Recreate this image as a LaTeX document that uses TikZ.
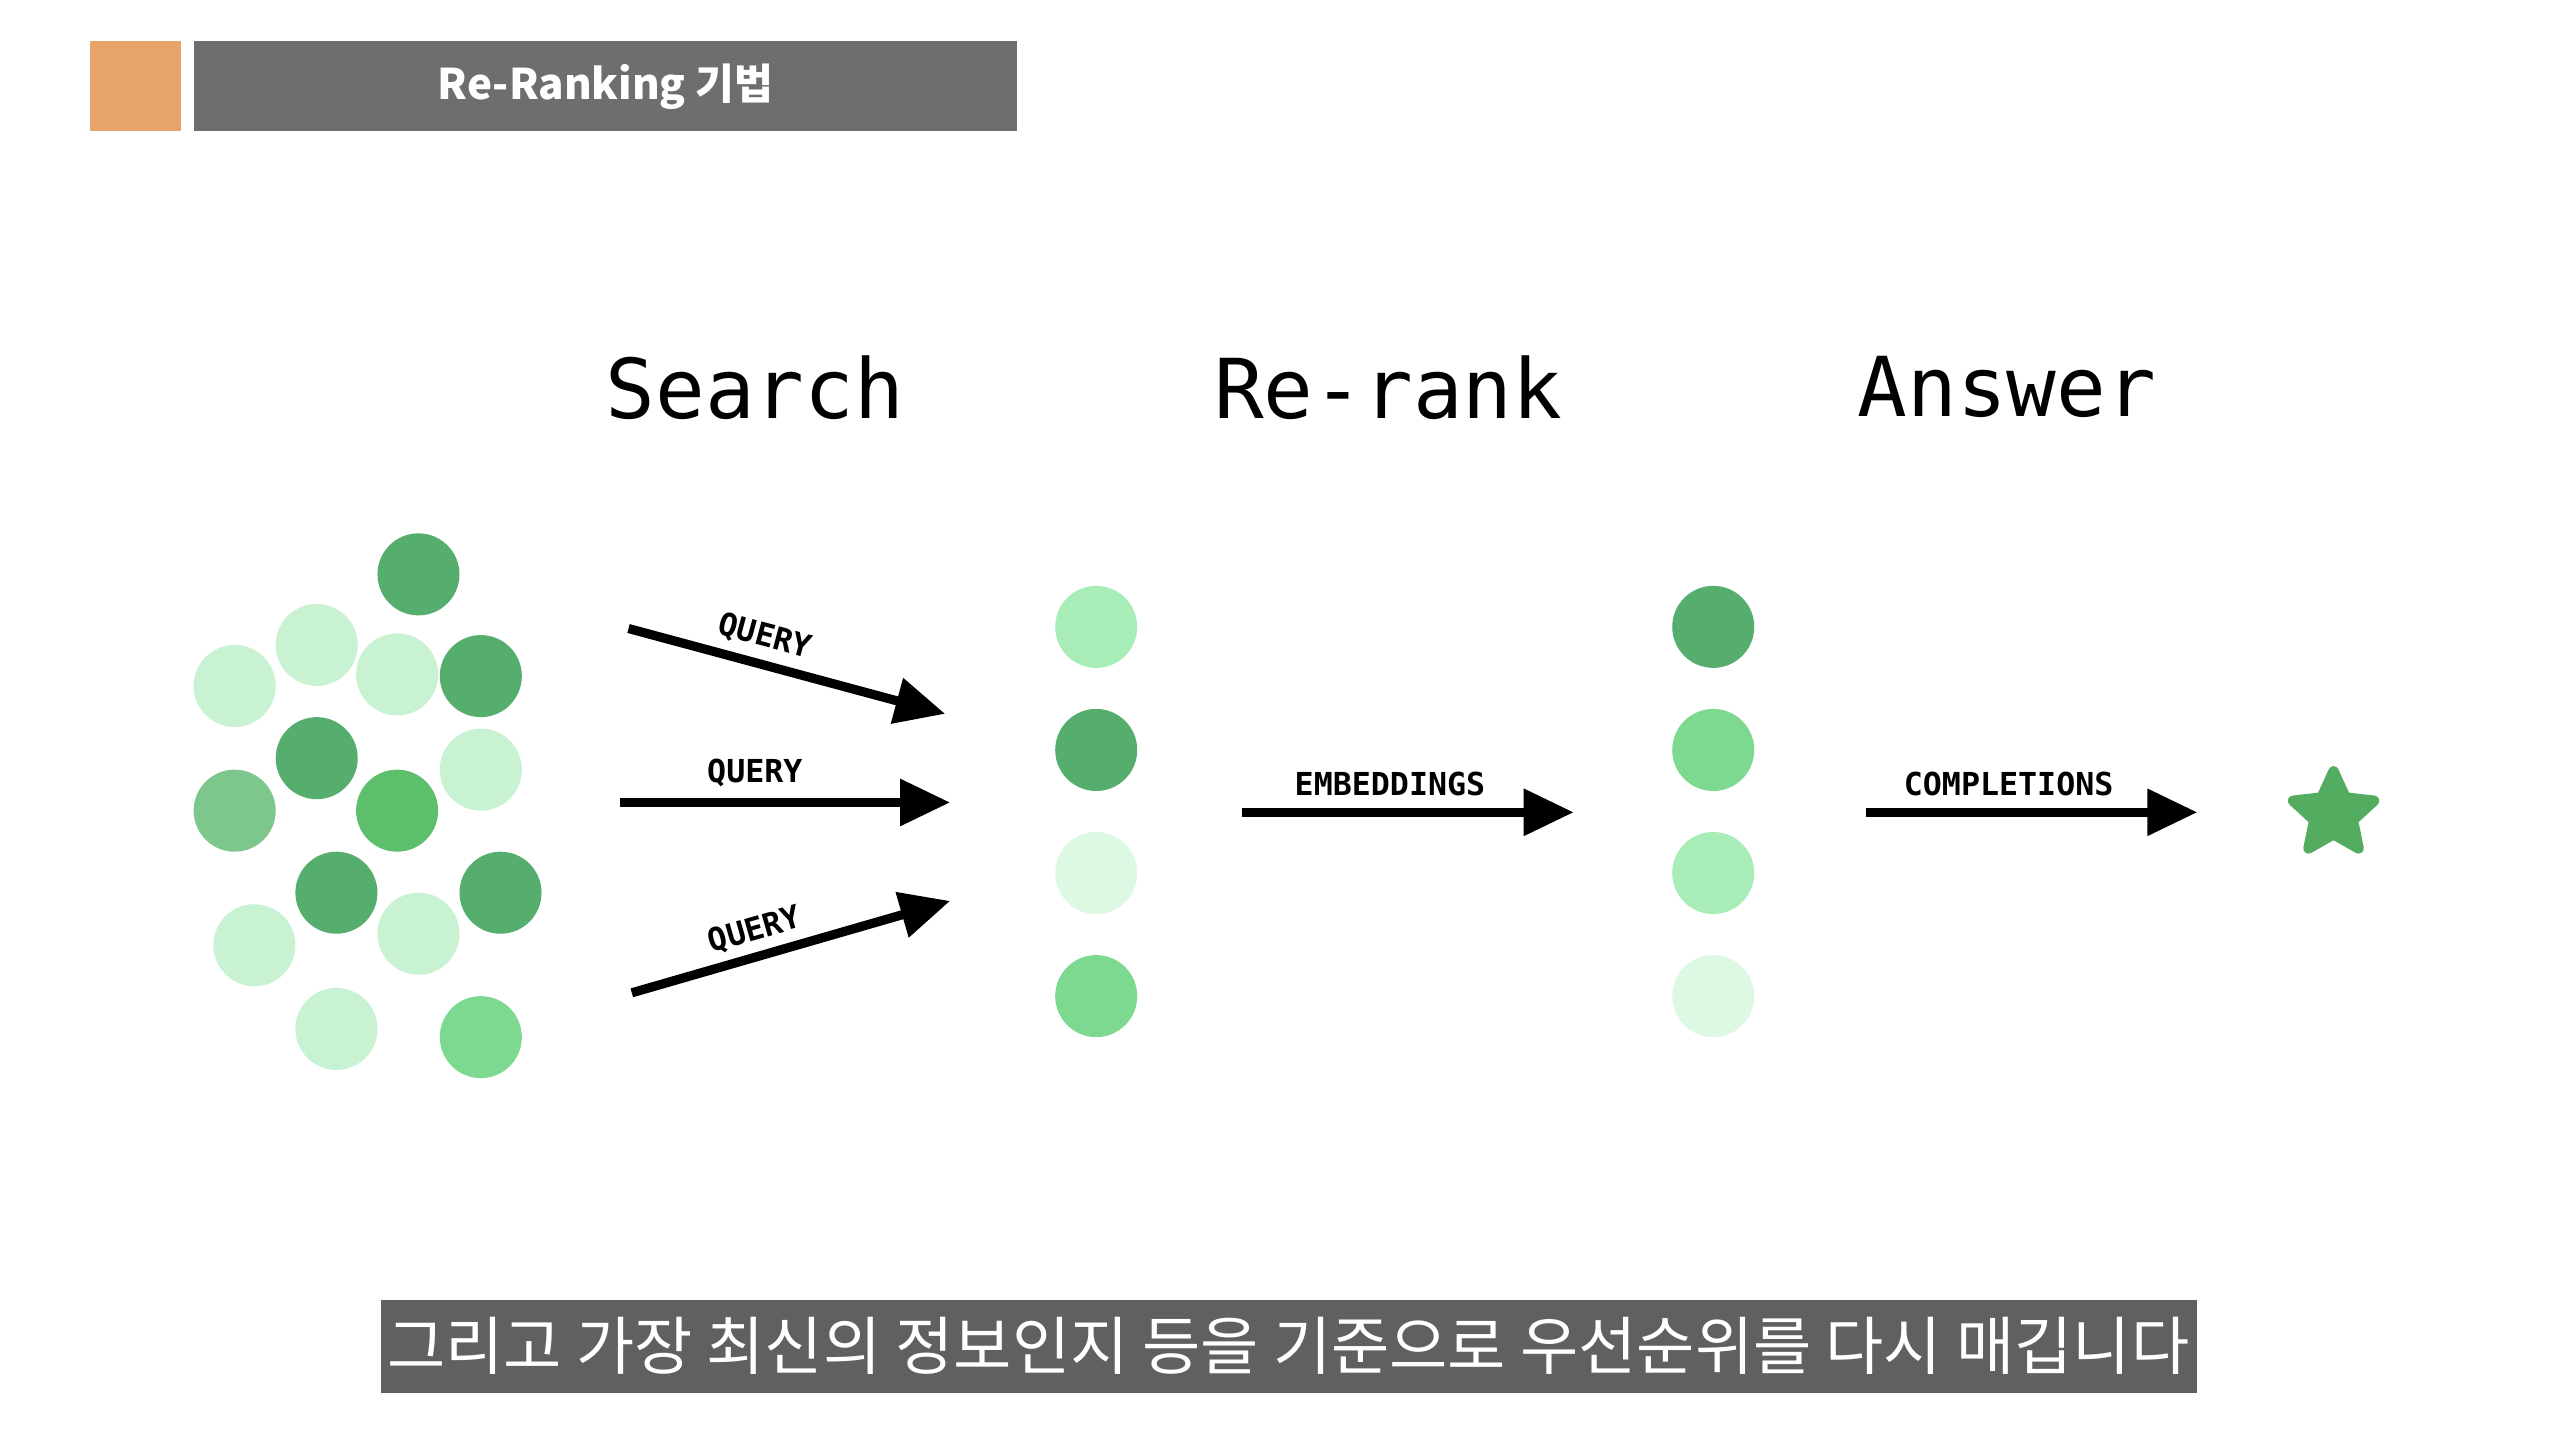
\documentclass[tikz,border=0pt]{standalone}
\usepackage{fontspec}
\setmonofont{DejaVu Sans Mono}
\newfontfamily\krfont{Noto Sans CJK KR}
\usetikzlibrary{arrows.meta,shapes.geometric}

\definecolor{gdark}{HTML}{55AE6E}
\definecolor{gbright}{HTML}{5DBF6C}
\definecolor{gmid}{HTML}{7DD990}
\definecolor{gsoft}{HTML}{7DC68C}
\definecolor{glight}{HTML}{A8EDB7}
\definecolor{gpale}{HTML}{C8F2D1}
\definecolor{gfaint}{HTML}{DDF8E3}
\definecolor{barorange}{HTML}{E8A36A}
\definecolor{bargray}{HTML}{6E6E6E}
\definecolor{subgray}{HTML}{606060}

\begin{document}
\begin{tikzpicture}[x=0.01641cm,y=-0.01641cm,
  dot/.style={circle,inner sep=0pt,minimum size=0.82cm},
  flow/.style={line width=2.6pt,-{Triangle[length=0.5cm,width=0.45cm]}},
  tag/.style={font=\ttfamily\bfseries\small},
  heading/.style={font=\ttfamily\fontsize{23.5}{28}\selectfont}]

\useasboundingbox[fill=white] (0,0) rectangle (1560,873);

% ---------- header ----------
\fill[barorange] (55,25) rectangle (110,80);
\fill[bargray] (118,25) rectangle (620,80);
\node[text=white,font=\krfont\bfseries\large] (title) at (369,53) {Re-Ranking 기법};

% ---------- headings ----------
\node[heading] (hsearch) at (460,236) {Search};
\node[heading] (hrerank) at (846,236) {Re-rank};
\node[heading] (hanswer) at (1223,236) {Answer};

% ---------- document cloud ----------
\foreach \px/\py/\col in {255/350/gdark, 193/393/gpale, 143/418/gpale, 242/411/gpale,
  293/412/gdark, 193/462/gdark, 293/469/gpale, 143/494/gsoft, 242/494/gbright,
  205/544/gdark, 305/544/gdark, 155/576/gpale, 255/569/gpale, 205/627/gpale, 293/632/gmid}
  \node[dot,fill=\col] at (\px,\py) {};

% ---------- search results ----------
\node[dot,fill=glight] (s1) at (668,382) {};
\node[dot,fill=gdark]  (s2) at (668,457) {};
\node[dot,fill=gfaint] (s3) at (668,532) {};
\node[dot,fill=gmid]   (s4) at (668,607) {};

% ---------- re-ranked ----------
\node[dot,fill=gdark]  (r1) at (1044,382) {};
\node[dot,fill=gmid]   (r2) at (1044,457) {};
\node[dot,fill=glight] (r3) at (1044,532) {};
\node[dot,fill=gfaint] (r4) at (1044,607) {};

% ---------- answer ----------
\node[star,star points=5,star point ratio=2.1,fill=gbright!90!black,draw=gbright!90!black,
  line width=3pt,line join=round,inner sep=0pt,minimum size=0.85cm] (ans) at (1422,496) {};

% ---------- arrows ----------
\coordinate (q1a) at (383,383); \coordinate (q1b) at (576,435);
\coordinate (q2a) at (378,489); \coordinate (q2b) at (579,489);
\coordinate (q3a) at (385,605); \coordinate (q3b) at (579,549);
\coordinate (ea) at (757,495);  \coordinate (eb) at (959,495);
\coordinate (ca) at (1137,495); \coordinate (cb) at (1339,495);

\draw[flow] (q1a) -- (q1b);
\draw[flow] (q2a) -- (q2b);
\draw[flow] (q3a) -- (q3b);
\draw[flow] (ea) -- (eb);
\draw[flow] (ca) -- (cb);

\node[tag,rotate=-15] (lq1) at (466,388) {QUERY};
\node[tag] (lq2) at (460,471) {QUERY};
\node[tag,rotate=16] (lq3) at (460,567) {QUERY};
\node[tag] (lemb) at (847,478) {EMBEDDINGS};
\node[tag] (lcomp) at (1224,478) {COMPLETIONS};

% ---------- subtitle ----------
\fill[subgray] (232,792) rectangle (1339,849);
\node[text=white,font=\krfont\fontsize{18}{22}\selectfont] (sub) at (785,820)
  {그리고 가장 최신의 정보인지 등을 기준으로 우선순위를 다시 매깁니다};

\end{tikzpicture}
\end{document}
